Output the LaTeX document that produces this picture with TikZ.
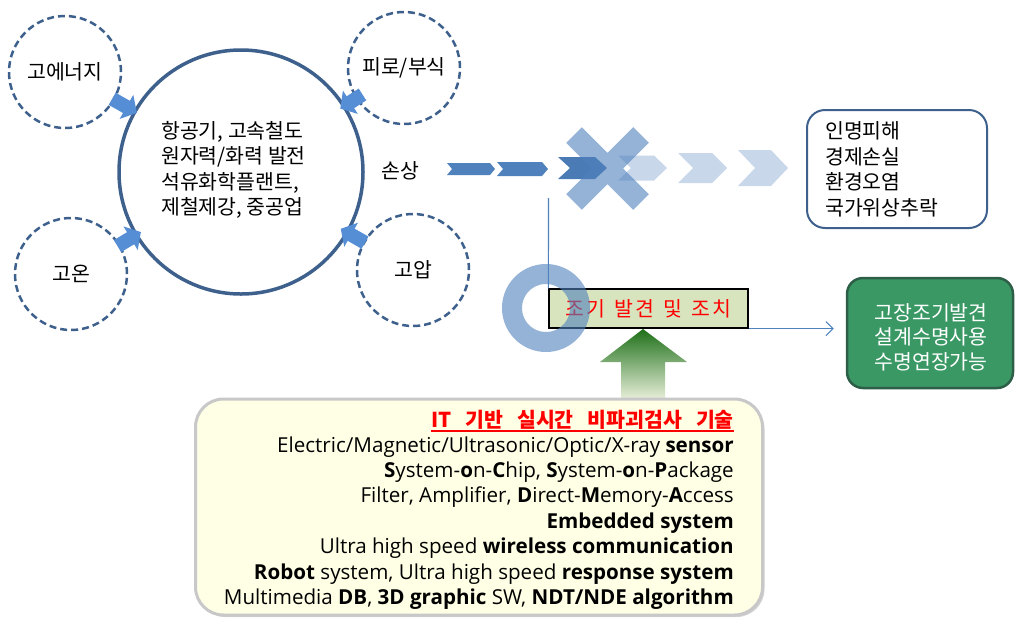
\documentclass[tikz,border=0pt]{standalone}
\usepackage{fontspec}
\setmainfont{Noto Sans CJK KR}
\newfontfamily\enfont{Open Sans}
\usetikzlibrary{arrows.meta,shadows}
\definecolor{dblue}{RGB}{62,96,140}
\definecolor{ablue}{RGB}{85,142,213}
\definecolor{cblue}{RGB}{79,129,189}
\definecolor{lblue}{RGB}{201,215,235}
\definecolor{boxgreen}{RGB}{215,228,189}
\definecolor{gbox}{RGB}{58,152,100}
\definecolor{gboxb}{RGB}{45,95,72}
\definecolor{ylw}{RGB}{255,255,230}
\definecolor{gborder}{RGB}{200,200,200}
\newcommand\kofont{\fontsize{20.5}{25.5}\selectfont}
\newcommand\enf{\enfont\fontsize{20.6}{24}\selectfont}
\newcommand\mychev[6]{\fill[#6] (#1,#3-#4) -- (#2-#5,#3-#4) -- (#2,#3) -- (#2-#5,#3+#4) -- (#1,#3+#4) -- (#1+#5,#3) -- cycle;}
\begin{document}
\begin{tikzpicture}[x=1pt,y=-1pt,
  dcirc/.style={circle,draw=dblue,dash pattern=on 7pt off 4pt,line width=2.5pt,minimum size=112pt,inner sep=0pt,font=\kofont},
  fat/.style={line width=14pt,draw=ablue,-{Triangle[width=27pt,length=12pt]}},
  txt/.style={inner sep=0pt,font=\kofont},
  eline/.style={inner sep=0pt,anchor=base east,font=\enf},
  thinblue/.style={draw=cblue,line width=1.1pt}]
\useasboundingbox (0,0) rectangle (1017,619);

% circles
\node[circle,draw=dblue,line width=3.5pt,minimum size=244pt,inner sep=0pt] (main) at (241,172) {};
\node[txt,align=left,anchor=west] (maint) at (161,170) {항공기, 고속철도\\원자력/화력 발전\\석유화학플랜트,\\제철제강, 중공업};
\node[dcirc] (e1) at (65,72) {고에너지};
\node[dcirc] (e2) at (404,68) {피로/부식};
\node[dcirc] (e3) at (71,274) {고온};
\node[dcirc] (e4) at (413,270) {고압};

\draw[fat,shorten <=-3pt,shorten >=-4pt] (e1) -- (main);
\draw[fat,shorten <=-8pt,shorten >=-6pt] (e2) -- (main);
\draw[fat,shorten <=-3pt,shorten >=-7pt] (e3) -- (main);
\draw[fat,shorten <=-2pt,shorten >=-9pt] (e4) -- (main);

\node[txt] (son) at (400,171) {손상};

% chevrons
\mychev{447}{495}{169}{6}{5}{cblue}
\mychev{497}{548}{169}{7}{6}{cblue}
\mychev{558}{607}{168}{11}{12}{cblue!95!black}
\mychev{618}{667}{168}{12.5}{13}{lblue}
\mychev{678}{727}{168}{15}{15}{lblue}
\mychev{738}{788}{168}{18}{17}{lblue}
% cross
\draw[draw=cblue,line width=22pt,opacity=.6] (574,135) -- (641,202) (641,135) -- (574,202);

% outcome box
\node[draw=dblue,line width=2pt,rounded corners=18pt,minimum width=180pt,minimum height=118pt] (loss) at (897,169) {};
\node[txt,align=left,anchor=west] (losst) at (825,169.5) {인명피해\\경제손실\\환경오염\\국가위상추락};

% green arrow
\shade[top color={rgb,255:red,30;green,112;blue,25},bottom color={rgb,255:red,240;green,244;blue,225}]
  (643,329) -- (687,362) -- (665,362) -- (665,402) -- (621,402) -- (621,362) -- (600,362) -- cycle;

% early detection box
\node[draw=black,line width=1.2pt,fill=boxgreen,minimum width=199pt,minimum height=39pt,inner sep=0pt,text=red,font=\kofont] (jo) at (648.5,308.5) {조\hspace{2pt}기\hspace{9pt}발\hspace{2pt}견\hspace{9pt}및\hspace{9pt}조\hspace{2pt}치};
\node[circle,draw=cblue,line width=20pt,opacity=.6,minimum size=68pt,inner sep=0pt] (ring) at (546,308) {};
\coordinate (vtop) at (548.5,198);
\draw[thinblue] (vtop) -- (jo.north west);

% green result box
\node[draw=gboxb,line width=2.5pt,fill=gbox,rounded corners=16pt,minimum width=166pt,minimum height=110pt] (res) at (930,333) {};
\node[txt,align=center,text=white,font=\fontsize{20.5}{24.5}\selectfont] (rest) at (931,337) {고장조기발견\\설계수명사용\\수명연장가능};
\draw[thinblue,-{Straight Barb[length=7pt,width=14pt]}] (jo.south east) -- (jo.south east -| res.west) [shorten >=12pt];

% bottom box
\node[draw=gborder,line width=3pt,fill=ylw,rounded corners=28pt,minimum width=567pt,minimum height=216pt,
  drop shadow={opacity=0.35,shadow xshift=2pt,shadow yshift=-2pt}] (tech) at (479,507) {};
\node[inner sep=0pt,anchor=base east,text=red,font=\kofont\bfseries] (h) at (734,427) {IT\hspace{14pt}기반\hspace{14pt}실시간\hspace{14pt}비파괴검사\hspace{14pt}기술};
\draw[red,line width=1.5pt] ([yshift=-4pt]h.base west) -- ([yshift=-4pt]h.base east);
\node[eline] (l2) at (734,452) {Electric/Magnetic/Ultrasonic/Optic/X-ray \textbf{sensor}};
\node[eline] (l3) at (734,477) {\textbf{S}ystem-\textbf{o}n-\textbf{C}hip, \textbf{S}ystem-\textbf{o}n-\textbf{P}ackage};
\node[eline] (l4) at (734,502) {Filter, Amplifier, \textbf{D}irect-\textbf{M}emory-\textbf{A}ccess};
\node[eline] (l5) at (734,528) {\textbf{Embedded system}};
\node[eline] (l6) at (734,553) {Ultra high speed \textbf{wireless communication}};
\node[eline] (l7) at (734,579) {\textbf{Robot} system, Ultra high speed \textbf{response system}};
\node[eline] (l8) at (734,604) {Multimedia \textbf{DB}, \textbf{3D graphic} SW, \textbf{NDT/NDE algorithm}};
\end{tikzpicture}
\end{document}
